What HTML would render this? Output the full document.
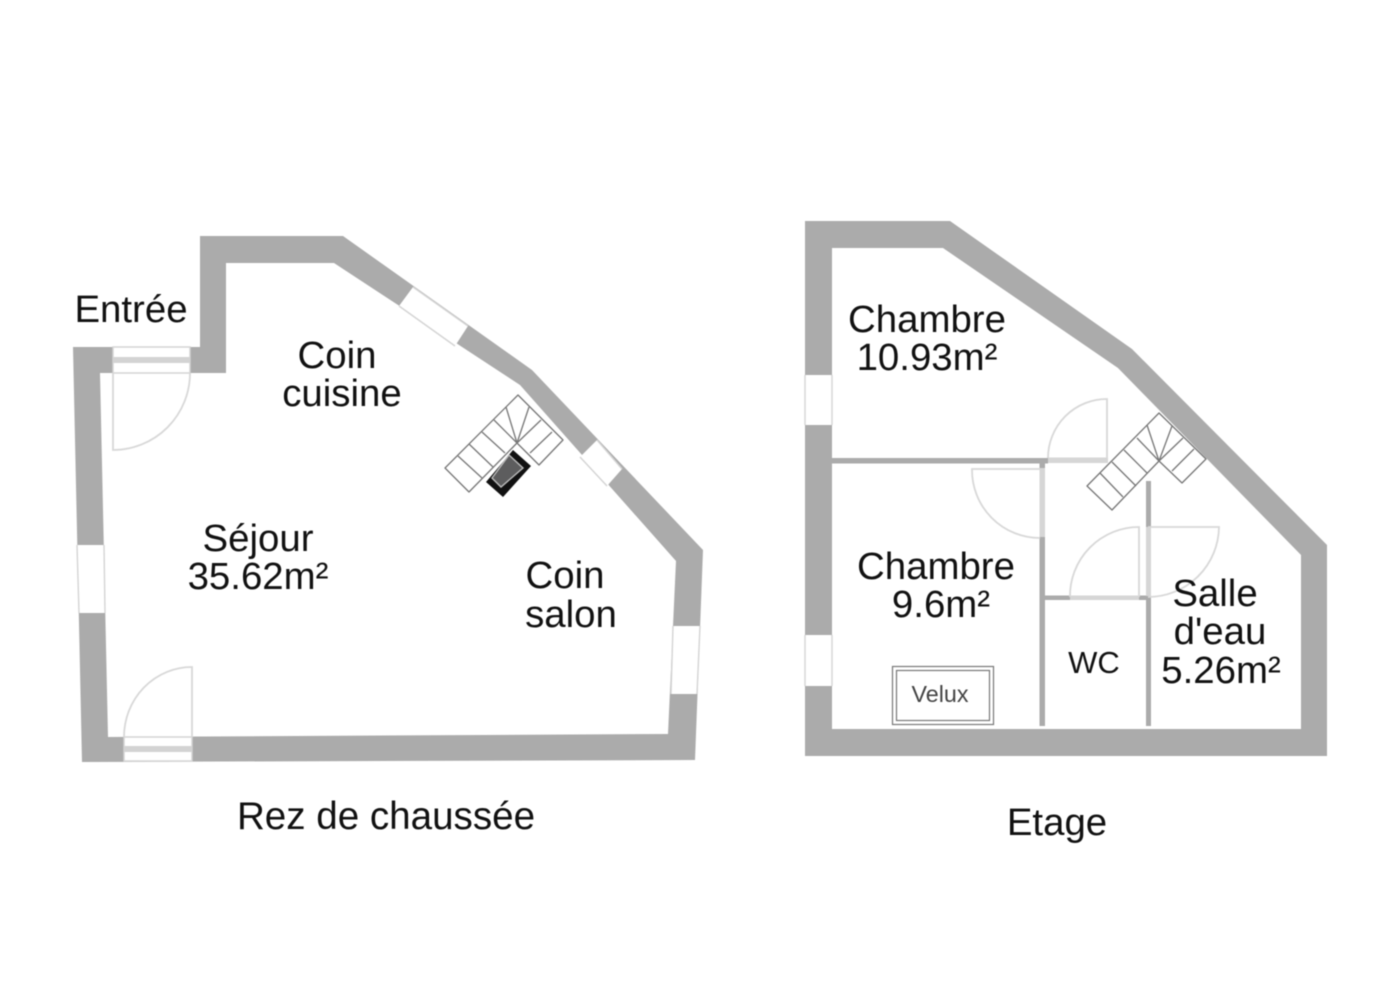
<!DOCTYPE html>
<html><head><meta charset="utf-8"><style>
html,body{margin:0;padding:0;background:#fff}
svg{display:block;filter:blur(0.5px)}
text{font-family:"Liberation Sans",sans-serif;fill:#111;text-anchor:middle}
.w{fill:#fff;stroke:none}
.e{fill:none;stroke:#d4d4d4;stroke-width:1.4}
.o{fill:#fff;stroke:#d4d4d4;stroke-width:1.5}
.a{fill:none;stroke:#d8d8d8;stroke-width:1.8}
.s{fill:#fff;stroke:#777;stroke-width:1.3;stroke-linejoin:round}
.l{fill:none;stroke:#777;stroke-width:1.3}
.lw{fill:#d3d3d3;stroke:none}
</style></head><body>
<svg width="1400" height="991" viewBox="0 0 1400 991" xmlns="http://www.w3.org/2000/svg">
<rect width="1400" height="991" fill="#fff"/>
<path fill="#ababab" fill-rule="evenodd" d="M73 347H200V236H343L532 370L703 550L695 760L82 762ZM100 373L108 737L668 734L676 561L520 385L456 343L334 263H226V373Z"/>
<!-- left windows -->
<polygon class="w" points="413,287 468,326 455,346 399,306"/>
<path class="e" d="M413,287L468,326M399,306L455,346"/>
<polygon class="w" points="597,440 622,469 607,486 580,457"/>
<path class="e" d="M597,440L622,469M580,457L607,486"/>
<polygon class="w" points="77,545 104,545 105,613 79,613"/>
<path class="e" d="M77,545L79,613M104,545L105,613"/>
<polygon class="w" points="673,626 700,626 697,694 671,694"/>
<path class="e" d="M673,626L671,694M700,626L697,694"/>
<!-- top door -->
<rect class="o" x="113" y="347" width="77" height="26"/>
<rect class="lw" x="113" y="357" width="77" height="6"/>
<path class="a" d="M113 373V450A77 77 0 0 0 190 373"/>
<!-- bottom door -->
<rect class="o" x="124" y="737" width="68" height="24"/>
<rect class="lw" x="124" y="746" width="68" height="6"/>
<path class="a" d="M124 737A68 70 0 0 1 192 667V737"/>
<!-- left stairs -->
<polygon class="s" points="518,395 445,468 469,492 517,443 539,465 563,440"/>
<path class="l" d="M458,456L482,478M469,444L493,467M482,432L505,453M494,420L517,443M506,407L517,443M529,407L517,443M541,420L517,443M552,432L530,453"/>
<polygon fill="#111" points="513,450 531,466 503,497 486,482"/>
<polygon fill="#5d5d5e" stroke="#bbb" stroke-width="1.4" points="509,455 523,468 501,487 492,478"/>
<!-- right plan -->
<path fill="#ababab" fill-rule="evenodd" d="M805 221H950L1132 349L1327 545V756H805ZM832 248V729H1301V555L1118 368L943 248Z"/>
<rect class="w" x="805" y="375" width="27" height="50"/>
<path class="e" d="M805,375V425M832,375V425"/>
<rect class="w" x="805" y="635" width="27" height="51"/>
<path class="e" d="M805,635V686M832,635V686"/>
<!-- partitions -->
<rect fill="#ababab" x="832" y="458" width="216" height="5.5"/>
<rect fill="#ababab" x="1039.5" y="461" width="5.5" height="265"/>
<rect fill="#ababab" x="1146" y="481" width="5" height="245"/>
<rect fill="#ababab" x="1045" y="595.5" width="104" height="4.5"/>
<!-- door leaves -->
<rect fill="#d6d6d6" x="1048" y="457.5" width="60" height="5.5"/>
<rect fill="#d6d6d6" x="1039.5" y="468" width="5.5" height="69"/>
<rect fill="#d6d6d6" x="1146" y="527" width="5" height="69"/>
<rect fill="#d6d6d6" x="1070" y="595.5" width="69" height="4.5"/>
<path class="a" d="M1048 458A59 59 0 0 1 1107 399V458"/>
<path class="a" d="M1040 538A68 68 0 0 1 972 469H1040"/>
<path class="a" d="M1070 597A69 69 0 0 1 1139 527V597"/>
<path class="a" d="M1148 527H1219A71 71 0 0 1 1148 597"/>
<!-- right stairs -->
<polygon class="s" points="1159,413 1087,486 1112,510 1159,461 1182,483 1206,459"/>
<path class="l" d="M1100,473L1123,497M1112,462L1136,486M1124,450L1147,473M1137,438L1159,461M1147,425L1159,461M1172,426L1159,461M1183,438L1159,461M1194,449L1172,471"/>
<!-- velux -->
<rect x="892.5" y="666.5" width="101" height="58" fill="none" stroke="#777" stroke-width="1.2"/>
<rect x="896.5" y="670.5" width="93" height="50" fill="none" stroke="#777" stroke-width="1.2"/>
<!-- labels -->
<text x="131" y="322" font-size="38.4">Entrée</text>
<text x="337" y="368" font-size="38.4">Coin</text>
<text x="342" y="406" font-size="38.4">cuisine</text>
<text x="258" y="551" font-size="38.4">Séjour</text>
<text x="258" y="589" font-size="38.4">35.62m²</text>
<text x="565" y="588" font-size="38.4">Coin</text>
<text x="571" y="627" font-size="38.4">salon</text>
<text x="386" y="829" font-size="38.6">Rez de chaussée</text>
<text x="927" y="332" font-size="38.4">Chambre</text>
<text x="927" y="370" font-size="38.4">10.93m²</text>
<text x="936" y="579" font-size="38.4">Chambre</text>
<text x="941" y="617" font-size="38.4">9.6m²</text>
<text x="1215" y="606" font-size="38.4">Salle</text>
<text x="1220" y="644" font-size="38.4">d'eau</text>
<text x="1221" y="683" font-size="38.4">5.26m²</text>
<text x="1094" y="673" font-size="31">WC</text>
<text x="940" y="702" font-size="23.3" style="fill:#444">Velux</text>
<text x="1057" y="835" font-size="38.4">Etage</text>
</svg>
</body></html>
